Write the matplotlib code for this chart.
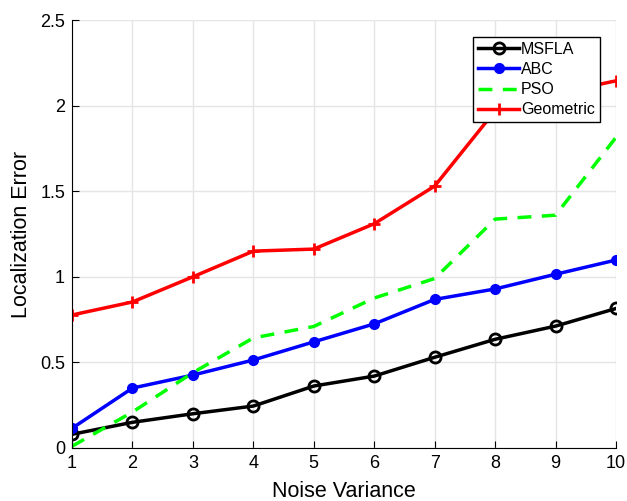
import matplotlib
matplotlib.use('Agg')
import matplotlib.pyplot as plt
import numpy as np

plt.rcParams['font.family'] = ['Liberation Sans', 'DejaVu Sans']

noise = [1, 2, 3, 4, 5, 6, 7, 8, 9, 10]
msfla = [0.08, 0.15, 0.20, 0.245, 0.362, 0.42, 0.53, 0.635, 0.712, 0.815]
abc = [0.115, 0.35, 0.426, 0.514, 0.62, 0.725, 0.868, 0.929, 1.015, 1.098]
pso = [0.01, 0.21, 0.44, 0.643, 0.71, 0.876, 0.99, 1.337, 1.36, 1.815]
geometric = [0.777, 0.853, 1.0, 1.15, 1.162, 1.31, 1.53, 1.97, 2.07, 2.145]

fig = plt.figure(figsize=(6.27, 5.01), dpi=100)
ax = fig.add_axes([0.1148, 0.1058, 0.8677, 0.8542])

ax.plot(noise, msfla, '-o', color='black', lw=2.5, ms=8, mfc='none', mew=2, label='MSFLA')
ax.plot(noise, abc, '-o', color='blue', lw=2.5, ms=7, label='ABC')
ax.plot(noise, pso, '--', color='#00ff00', lw=2.5, dashes=(4, 3), label='PSO')
ax.plot(noise, geometric, '-+', color='red', lw=2.5, ms=9, mew=2, label='Geometric')

ax.set_xlim(1, 10)
ax.set_ylim(0, 2.5)
ax.set_xticks(noise)
ax.set_yticks([0, 0.5, 1, 1.5, 2, 2.5])
ax.set_yticklabels(['0', '0.5', '1', '1.5', '2', '2.5'])
ax.grid(True, color='#e5e5e5', lw=1)
ax.set_axisbelow(True)
ax.spines['top'].set_visible(False)
ax.spines['right'].set_visible(False)
ax.tick_params(direction='in', labelsize=13, length=5, pad=5)
ax.set_xlabel('Noise Variance', fontsize=15.5, labelpad=6.5)
ax.set_ylabel('Localization Error', fontsize=15.5, labelpad=6)

leg = ax.legend(loc='upper right', bbox_to_anchor=(0.97, 0.96), fontsize=11.5,
                frameon=True, fancybox=False, edgecolor='black', framealpha=1,
                handlelength=2.6, handletextpad=0.1, borderpad=0.3, labelspacing=0.32,
                borderaxespad=0)
leg.get_frame().set_linewidth(1)

fig.savefig('out.png', dpi=100)
